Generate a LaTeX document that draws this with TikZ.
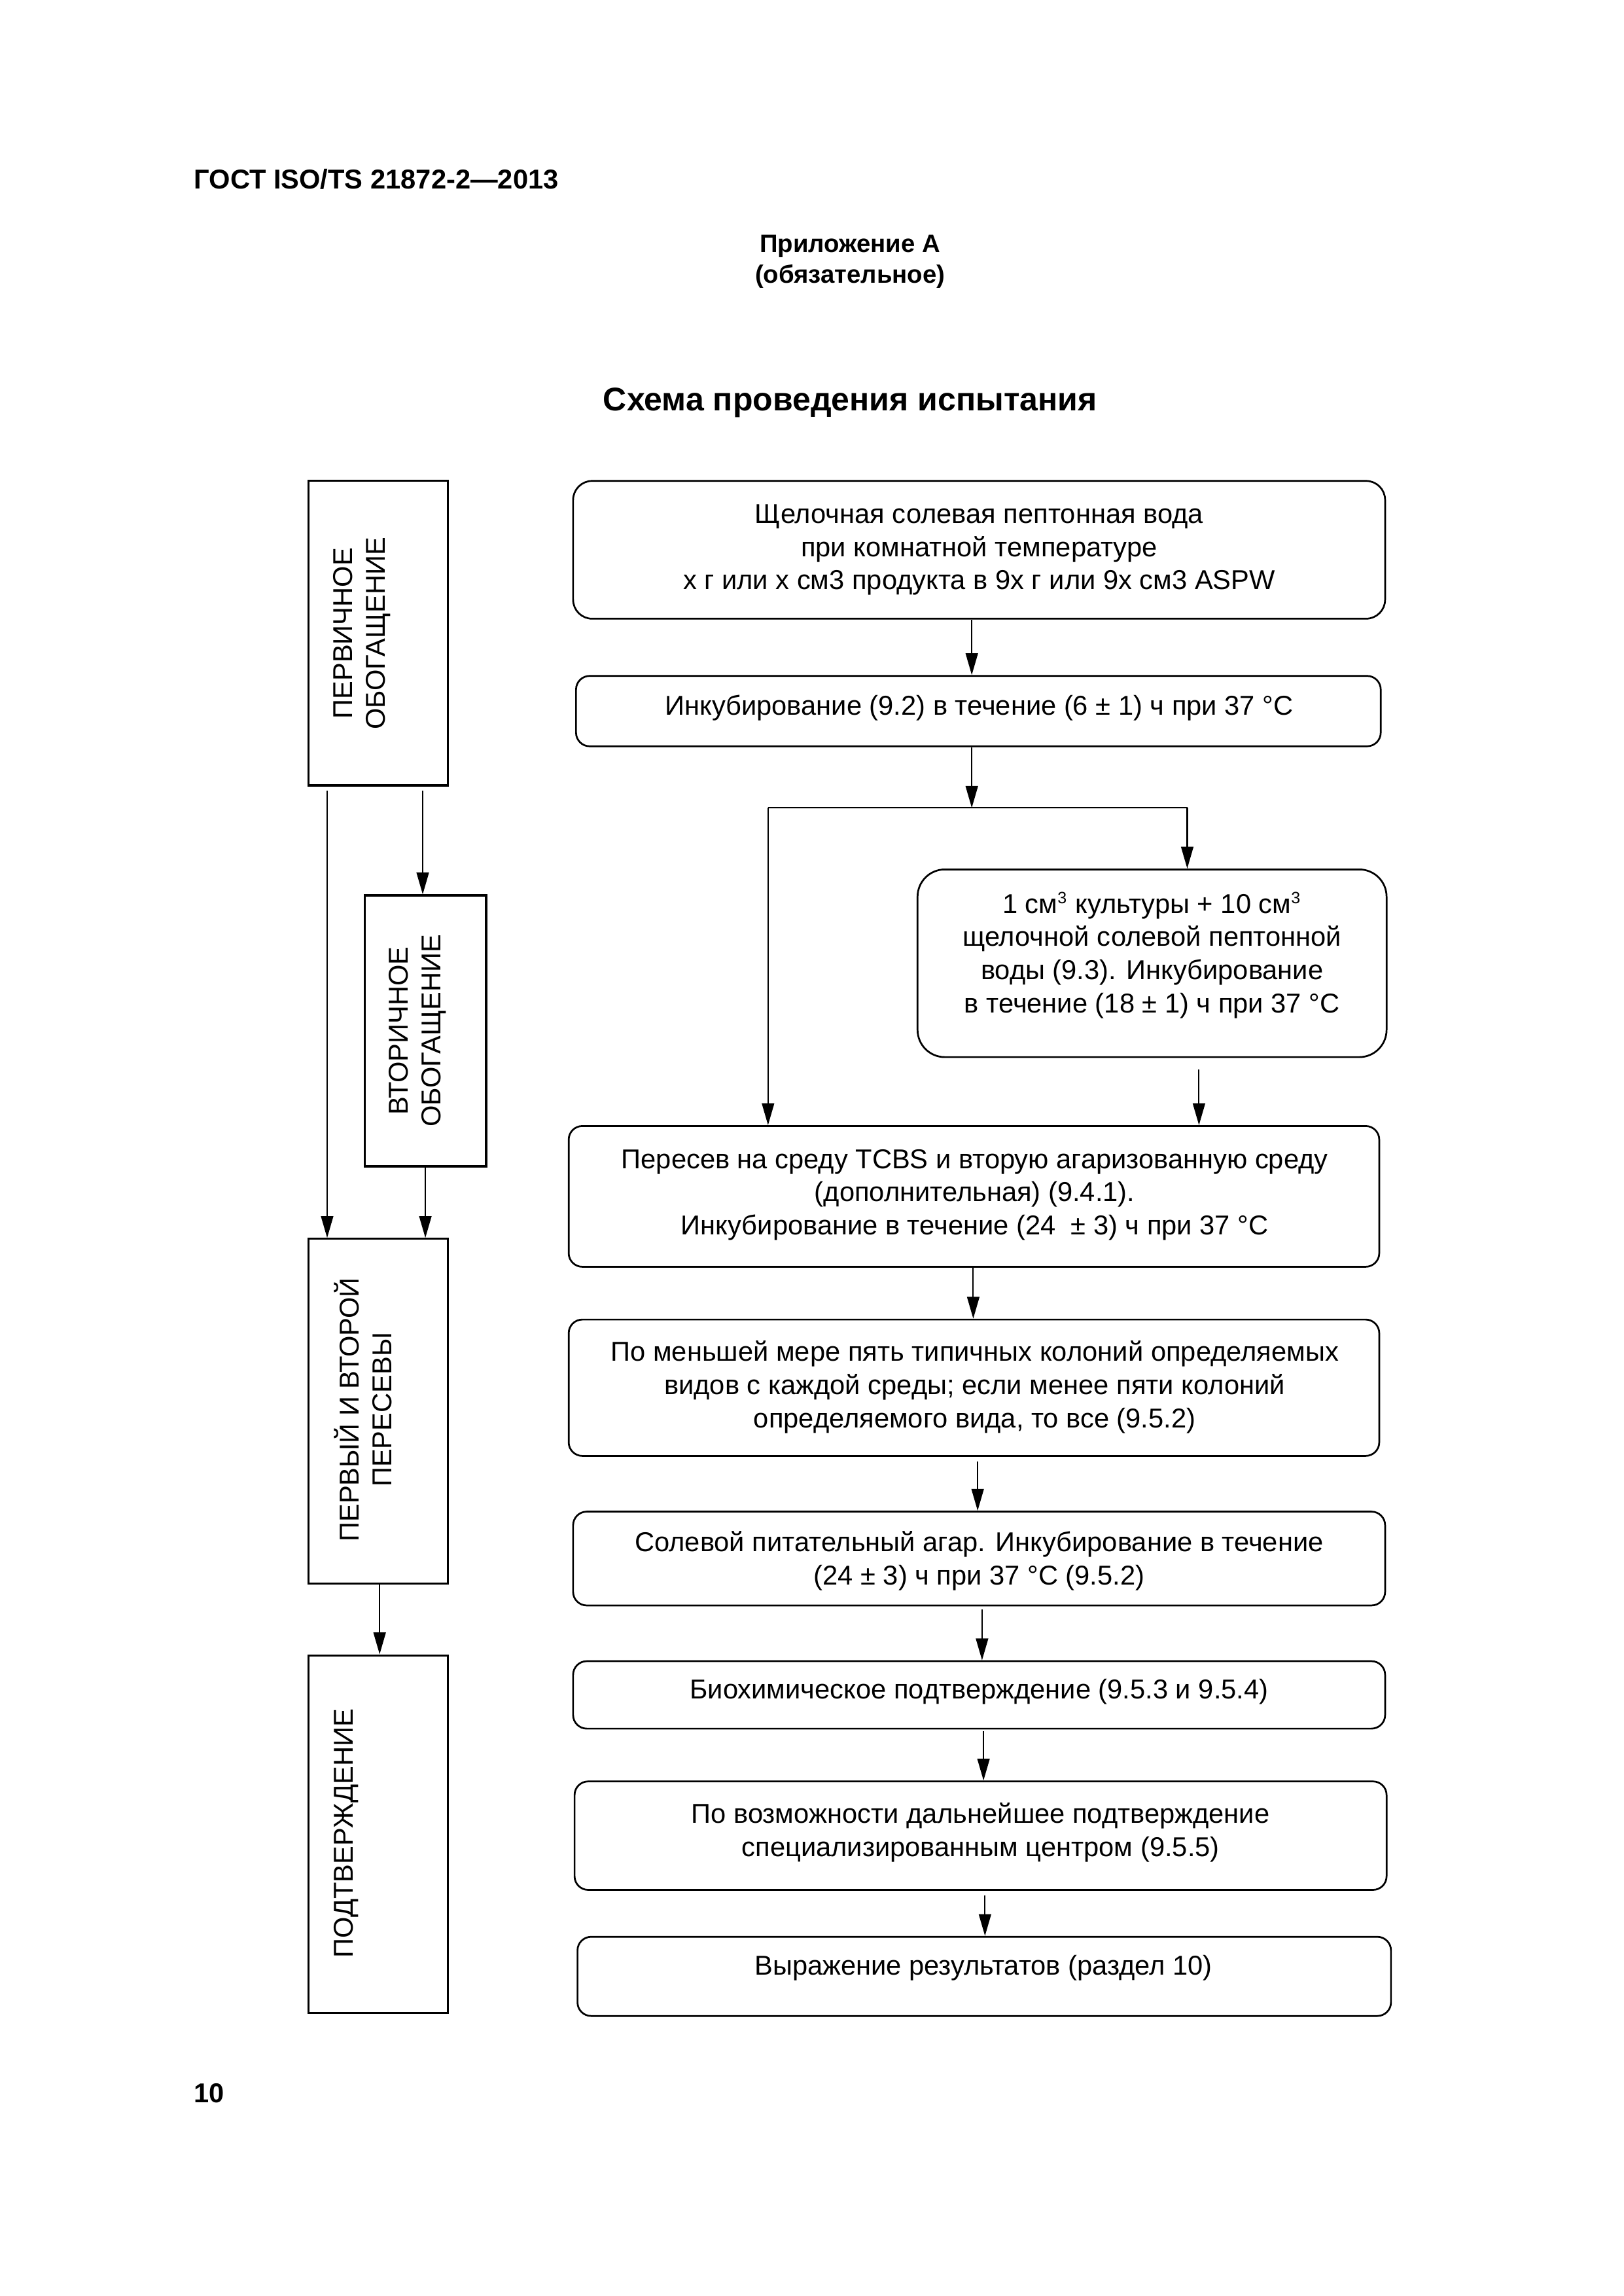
\documentclass[tikz,border=0pt]{standalone}
\usepackage{fontspec}
\setmainfont{Liberation Sans}
\usetikzlibrary{arrows.meta,calc}
\newcommand\mkbox[6]{\node[#1, minimum width={(#5-#3)*0.5375pt}, minimum height={(#6-#4)*0.5375pt}] (#2) at ({(#3+#5)/2},{(#4+#6)/2}) {};}
\begin{document}
\begin{tikzpicture}[x=0.5375pt,y=-0.5375pt,
  lbox/.style={draw, line width=0.75pt, inner sep=0pt},
  rbox/.style={draw, line width=0.65pt, rounded corners=5pt, inner sep=0pt},
  txt/.style={align=center, inner sep=0pt, font=\fontsize{10}{12.2}\selectfont},
  vtxt/.style={align=center, inner sep=0pt, rotate=90, font=\fontsize{10}{12}\selectfont},
  arr/.style={line width=0.5pt, -{Triangle[length=8pt,width=4.5pt]}},
  ln/.style={line width=0.5pt}]
\useasboundingbox (0,0) rectangle (1107.6,1566);

% header
\node[anchor=base west, inner sep=0pt, font=\bfseries\fontsize{10}{12}\selectfont] (hdr) at (132,129) {ГОСТ ISO/TS 21872-2—2013};
\node[anchor=base, inner sep=0pt, font=\bfseries\fontsize{9.2}{11}\selectfont] (app) at (580,172) {Приложение А};
\node[anchor=base, inner sep=0pt, font=\bfseries\fontsize{9.2}{11}\selectfont] (obl) at (580,193) {(обязательное)};
\node[anchor=base, inner sep=0pt, font=\bfseries\fontsize{12}{14}\selectfont] (title) at (580,280) {Схема проведения испытания};
\node[anchor=base west, inner sep=0pt, font=\bfseries\fontsize{10}{12}\selectfont] (pg) at (132,1434) {10};

% left column
\mkbox{lbox}{L1}{210.6}{328}{305.4}{535.7}
\mkbox{lbox}{L2}{248.7}{610.7}{331.7}{795.5}
\mkbox{lbox}{L3}{210.6}{845}{305.4}{1080}
\mkbox{lbox}{L4}{210.6}{1129}{305.4}{1373}
\node[vtxt] (L1t) at (247,432) {ПЕРВИЧНОЕ\\ОБОГАЩЕНИЕ};
\node[vtxt] (L2t) at (285,703) {ВТОРИЧНОЕ\\ОБОГАЩЕНИЕ};
\node[vtxt] (L3t) at (247.5,961.5) {ПЕРВЫЙ И ВТОРОЙ\\ПЕРЕСЕВЫ};
\node[vtxt] (L4t) at (236,1250.5) {ПОДТВЕРЖДЕНИЕ};

% right column
\mkbox{rbox,rounded corners=7pt}{R1}{391}{328}{945}{422}
\mkbox{rbox}{R2}{393}{461}{942}{509}
\mkbox{rbox,rounded corners=10pt}{R3}{626}{593}{946}{721}
\mkbox{rbox}{R4}{388}{768}{941}{864}
\mkbox{rbox}{R5}{388}{900}{941}{993}
\mkbox{rbox}{R6}{391}{1031}{945}{1095}
\mkbox{rbox}{R7}{391}{1133}{945}{1179}
\mkbox{rbox}{R8}{392}{1215}{946}{1289}
\mkbox{rbox}{R9}{394}{1321}{949}{1375}

\node[txt] (R1t) at (668,375) {Щелочная солевая пептонная вода\\при комнатной температуре\\х г или х см3 продукта в 9х г или 9х см3 ASPW};
\node[txt] (R2t) at (668,483) {Инкубирование (9.2) в течение (6 ± 1) ч при 37 °C};
\node[txt] (R3t) at (786,651.5) {1 см\textsuperscript{\fontsize{6}{6}\selectfont 3} культуры + 10 см\textsuperscript{\fontsize{6}{6}\selectfont 3}\\щелочной солевой пептонной\\воды (9.3). Инкубирование\\в течение (18 ± 1) ч при 37 °C};
\node[txt] (R4t) at (665,815) {Пересев на среду TCBS и вторую агаризованную среду\\(дополнительная) (9.4.1).\\Инкубирование в течение (24~ ± 3) ч при 37 °C};
\node[txt] (R5t) at (665,946) {По меньшей мере пять типичных колоний определяемых\\видов с каждой среды; если менее пяти колоний\\определяемого вида, то все (9.5.2)};
\node[txt] (R6t) at (668,1064.5) {Солевой питательный агар. Инкубирование в течение\\(24 ± 3) ч при 37 °C (9.5.2)};
\node[txt] (R7t) at (668,1154) {Биохимическое подтверждение (9.5.3 и 9.5.4)};
\node[txt] (R8t) at (669,1250) {По возможности дальнейшее подтверждение\\специализированным центром (9.5.5)};
\node[txt] (R9t) at (671,1342) {Выражение результатов (раздел 10)};

% column coordinates
\coordinate (x223) at (223.2,0);
\coordinate (x288) at (288.4,0);
\coordinate (x290) at (290.2,0);
\coordinate (x259) at (259,0);
\coordinate (x663) at (663,0);
\coordinate (x664) at (664,0);
\coordinate (x667) at (667,0);
\coordinate (x670) at (670,0);
\coordinate (x671) at (671,0);
\coordinate (x672) at (672,0);
\coordinate (x818) at (818,0);
\coordinate (jm) at (663,551);
\coordinate (jl) at (524,551);
\coordinate (jr) at (810,551);

% left arrows
\draw[arr] ($(L1.south -| x223)+(0,3)$) -- (L3.north -| x223);
\draw[arr] ($(L1.south -| x288)+(0,3)$) -- (L2.north -| x288);
\draw[arr] (L2.south -| x290) -- (L3.north -| x290);
\draw[arr] (L3.south -| x259) -- (L4.north -| x259);

% right arrows
\draw[arr] (R1.south -| x663) -- (R2.north -| x663);
\draw[arr] (R2.south -| x663) -- (jm);
\draw[ln] (jl) -- (jr);
\draw[arr] (jr) -- (R3.north -| jr);
\draw[arr] (jl) -- (R4.north -| jl);
\draw[arr] ($(R3.south -| x818)+(0,8)$) -- (R4.north -| x818);
\draw[arr] (R4.south -| x664) -- (R5.north -| x664);
\draw[arr] ($(R5.south -| x667)+(0,3)$) -- (R6.north -| x667);
\draw[arr] ($(R6.south -| x670)+(0,2)$) -- (R7.north -| x670);
\draw[arr] ($(R7.south -| x671)+(0,1)$) -- (R8.north -| x671);
\draw[arr] ($(R8.south -| x672)+(0,3)$) -- (R9.north -| x672);
\end{tikzpicture}
\end{document}
